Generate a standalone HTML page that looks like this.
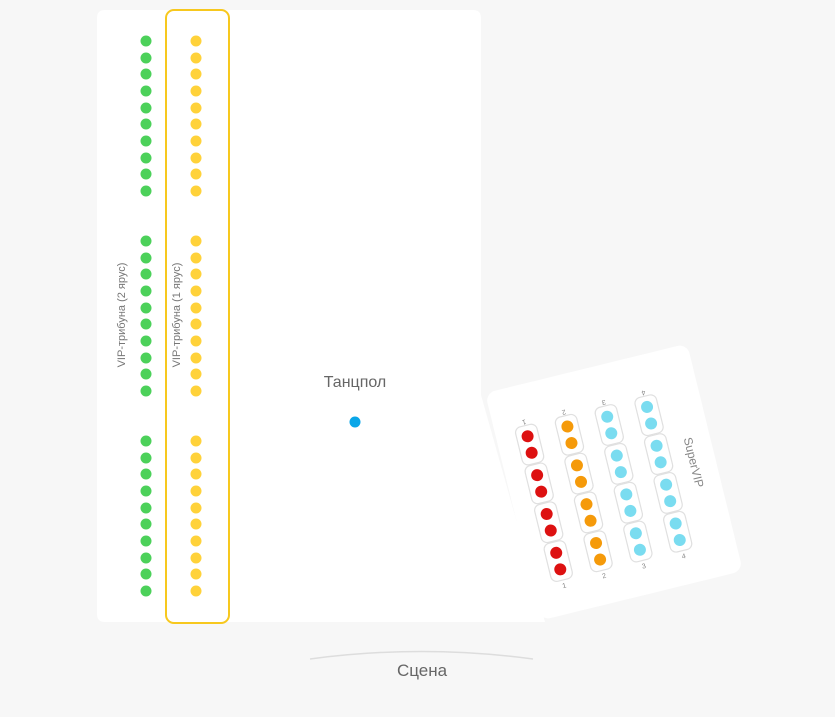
<!DOCTYPE html>
<html><head><meta charset="utf-8"><style>html,body{margin:0;padding:0;background:#f7f7f7}svg{display:block}</style></head>
<body>
<svg width="835" height="717" viewBox="0 0 835 717" xmlns="http://www.w3.org/2000/svg" font-family="Liberation Sans, sans-serif">
<rect x="0" y="0" width="835" height="717" fill="#f7f7f7"/>
<path d="M105 10 H473 Q481 10 481 18 V395 L545 622 H105 Q97 622 97 614 V18 Q97 10 105 10 Z" fill="#fff"/>
<g transform="translate(614 482) rotate(-13.8)">
  <rect x="-104" y="-117" width="208" height="234" rx="10" fill="#fff"/>
</g>
<rect x="166" y="10" width="63" height="613" rx="8" fill="none" stroke="#f7c81e" stroke-width="2"/>
<g id="dots">
<g fill="#4cd15a">
<circle cx="146" cy="41" r="5.5"/><circle cx="146" cy="58" r="5.5"/><circle cx="146" cy="74" r="5.5"/><circle cx="146" cy="91" r="5.5"/><circle cx="146" cy="108" r="5.5"/><circle cx="146" cy="124" r="5.5"/><circle cx="146" cy="141" r="5.5"/><circle cx="146" cy="158" r="5.5"/><circle cx="146" cy="174" r="5.5"/><circle cx="146" cy="191" r="5.5"/>
<circle cx="146" cy="241" r="5.5"/><circle cx="146" cy="258" r="5.5"/><circle cx="146" cy="274" r="5.5"/><circle cx="146" cy="291" r="5.5"/><circle cx="146" cy="308" r="5.5"/><circle cx="146" cy="324" r="5.5"/><circle cx="146" cy="341" r="5.5"/><circle cx="146" cy="358" r="5.5"/><circle cx="146" cy="374" r="5.5"/><circle cx="146" cy="391" r="5.5"/>
<circle cx="146" cy="441" r="5.5"/><circle cx="146" cy="458" r="5.5"/><circle cx="146" cy="474" r="5.5"/><circle cx="146" cy="491" r="5.5"/><circle cx="146" cy="508" r="5.5"/><circle cx="146" cy="524" r="5.5"/><circle cx="146" cy="541" r="5.5"/><circle cx="146" cy="558" r="5.5"/><circle cx="146" cy="574" r="5.5"/><circle cx="146" cy="591" r="5.5"/>
</g>
<g fill="#ffd23a">
<circle cx="196" cy="41" r="5.5"/><circle cx="196" cy="58" r="5.5"/><circle cx="196" cy="74" r="5.5"/><circle cx="196" cy="91" r="5.5"/><circle cx="196" cy="108" r="5.5"/><circle cx="196" cy="124" r="5.5"/><circle cx="196" cy="141" r="5.5"/><circle cx="196" cy="158" r="5.5"/><circle cx="196" cy="174" r="5.5"/><circle cx="196" cy="191" r="5.5"/>
<circle cx="196" cy="241" r="5.5"/><circle cx="196" cy="258" r="5.5"/><circle cx="196" cy="274" r="5.5"/><circle cx="196" cy="291" r="5.5"/><circle cx="196" cy="308" r="5.5"/><circle cx="196" cy="324" r="5.5"/><circle cx="196" cy="341" r="5.5"/><circle cx="196" cy="358" r="5.5"/><circle cx="196" cy="374" r="5.5"/><circle cx="196" cy="391" r="5.5"/>
<circle cx="196" cy="441" r="5.5"/><circle cx="196" cy="458" r="5.5"/><circle cx="196" cy="474" r="5.5"/><circle cx="196" cy="491" r="5.5"/><circle cx="196" cy="508" r="5.5"/><circle cx="196" cy="524" r="5.5"/><circle cx="196" cy="541" r="5.5"/><circle cx="196" cy="558" r="5.5"/><circle cx="196" cy="574" r="5.5"/><circle cx="196" cy="591" r="5.5"/>
</g>
</g>
<text x="0" y="0" transform="translate(125 315) rotate(-90)" text-anchor="middle" font-size="11" fill="#777">VIP-трибуна (2 ярус)</text>
<text x="0" y="0" transform="translate(180 315) rotate(-90)" text-anchor="middle" font-size="11" fill="#777">VIP-трибуна (1 ярус)</text>
<text x="355" y="387" text-anchor="middle" font-size="16" fill="#666">Танцпол</text>
<circle cx="355" cy="422" r="5.5" fill="#0aa6e8"/>
<path d="M310 659 Q421 644 533 659" fill="none" stroke="#ddd" stroke-width="1.5"/>
<text x="422" y="676" text-anchor="middle" font-size="17" fill="#666">Сцена</text>
<g transform="translate(614 482) rotate(-13.8)">
  <g fill="none" stroke="#e0e0e0" stroke-width="1.2">
    <rect x="-84" y="-76" width="22" height="39" rx="6"/><rect x="-84" y="-36" width="22" height="39" rx="6"/><rect x="-84" y="4" width="22" height="39" rx="6"/><rect x="-84" y="44" width="22" height="39" rx="6"/>
    <rect x="-43" y="-76" width="22" height="39" rx="6"/><rect x="-43" y="-36" width="22" height="39" rx="6"/><rect x="-43" y="4" width="22" height="39" rx="6"/><rect x="-43" y="44" width="22" height="39" rx="6"/>
    <rect x="-2" y="-76" width="22" height="39" rx="6"/><rect x="-2" y="-36" width="22" height="39" rx="6"/><rect x="-2" y="4" width="22" height="39" rx="6"/><rect x="-2" y="44" width="22" height="39" rx="6"/>
    <rect x="39" y="-76" width="22" height="39" rx="6"/><rect x="39" y="-36" width="22" height="39" rx="6"/><rect x="39" y="4" width="22" height="39" rx="6"/><rect x="39" y="44" width="22" height="39" rx="6"/>
  </g>
  <g fill="#dd1111">
    <circle cx="-73" cy="-65" r="6"/><circle cx="-73" cy="-48" r="6"/><circle cx="-73" cy="-25" r="6"/><circle cx="-73" cy="-8" r="6"/><circle cx="-73" cy="15" r="6"/><circle cx="-73" cy="32" r="6"/><circle cx="-73" cy="55" r="6"/><circle cx="-73" cy="72" r="6"/>
  </g>
  <g fill="#f59a0a">
    <circle cx="-32" cy="-65" r="6"/><circle cx="-32" cy="-48" r="6"/><circle cx="-32" cy="-25" r="6"/><circle cx="-32" cy="-8" r="6"/><circle cx="-32" cy="15" r="6"/><circle cx="-32" cy="32" r="6"/><circle cx="-32" cy="55" r="6"/><circle cx="-32" cy="72" r="6"/>
  </g>
  <g fill="#7adcf0">
    <circle cx="9" cy="-65" r="6"/><circle cx="9" cy="-48" r="6"/><circle cx="9" cy="-25" r="6"/><circle cx="9" cy="-8" r="6"/><circle cx="9" cy="15" r="6"/><circle cx="9" cy="32" r="6"/><circle cx="9" cy="55" r="6"/><circle cx="9" cy="72" r="6"/>
    <circle cx="50" cy="-65" r="6"/><circle cx="50" cy="-48" r="6"/><circle cx="50" cy="-25" r="6"/><circle cx="50" cy="-8" r="6"/><circle cx="50" cy="15" r="6"/><circle cx="50" cy="32" r="6"/><circle cx="50" cy="55" r="6"/><circle cx="50" cy="72" r="6"/>
  </g>
  <g font-size="7" fill="#888" text-anchor="middle">
    <text x="-73" y="-78" transform="rotate(180 -73 -80)">1</text><text x="-73" y="91">1</text>
    <text x="-32" y="-78" transform="rotate(180 -32 -80)">2</text><text x="-32" y="91">2</text>
    <text x="9" y="-78" transform="rotate(180 9 -80)">3</text><text x="9" y="91">3</text>
    <text x="50" y="-78" transform="rotate(180 50 -80)">4</text><text x="50" y="91">4</text>
  </g>
  <text x="0" y="0" transform="translate(78 0) rotate(90)" text-anchor="middle" font-size="12" fill="#888">SuperVIP</text>
</g>
</svg>
</body></html>
